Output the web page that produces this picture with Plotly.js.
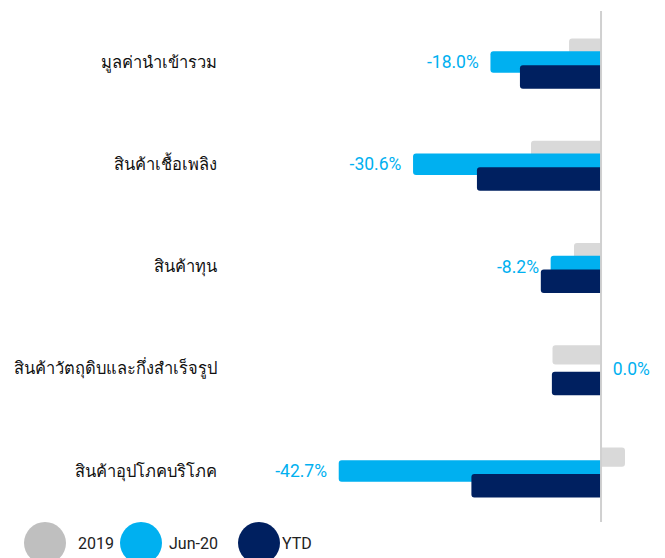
<!DOCTYPE html>
<html>
<head>
<meta charset="utf-8">
<script src="https://cdn.plot.ly/plotly-3.0.1.min.js"></script>
<style>html,body{margin:0;padding:0;background:#fff;}#chart{width:665px;height:558px;}</style>
</head>
<body>
<div id="chart"></div>
<script>
const categories = ["มูลค่านำเข้ารวม", "สินค้าเชื้อเพลิง", "สินค้าทุน", "สินค้าวัตถุดิบและกึ่งสำเร็จรูป", "สินค้าอุปโภคบริโภค"];
const seriesNames = ["2019", "Jun-20", "YTD"];
const values2019 = [-5.2, -11.4, -4.4, -7.9, 3.9];
const valuesJun20 = [-18.0, -30.6, -8.2, 0.0, -42.7];
const valuesYTD = [-13.2, -20.2, -9.8, -8.0, -21.1];

const barColors = ["#D9D9D9", "#00B0F0", "#002060"];
const legendColors = ["#BFBFBF", "#00B0F0", "#002060"];
const labelFont = "Roboto, 'Liberation Sans Narrow', 'DejaVu Sans', sans-serif";
const catFont = "'Noto Sans', 'DejaVu Sans', sans-serif";

const pad = "\u00a0\u00a0";
const junText = valuesJun20.map(v => v < 0 ? v.toFixed(1) + "%" + pad : pad + v.toFixed(1) + "%");

const allValues = [values2019, valuesJun20, valuesYTD];
const widths = [0.19, 0.21, 0.23];
const offsets = [-0.23, -0.105, 0.03];

const traces = allValues.map((vals, i) => {
  const t = {
    type: "bar",
    orientation: "h",
    name: seriesNames[i],
    y: categories,
    x: vals,
    width: widths[i],
    offset: offsets[i],
    marker: {color: barColors[i], cornerradius: 3},
    hoverinfo: "x+name",
    cliponaxis: false
  };
  if (i === 1) {
    t.text = junText;
    t.textposition = "outside";
    t.constraintext = "none";
    t.textfont = {color: "#00B0F0", size: 17.5, family: labelFont};
  } else {
    t.textposition = "none";
  }
  return t;
});

// plot area geometry for custom legend placement
const L = 222, R = 5, T = 11, B = 36, W = 665, H = 558;
const pw = W - L - R, ph = H - T - B;
const px2x = p => (p - L) / pw;
const py2y = p => (H - B - p) / ph;

const legendCircleX = [45, 141, 259];
const legendTextX = [76, 167, 280];
const legendY = 543;

const shapes = [{
  type: "line", xref: "x", yref: "paper", x0: 0, x1: 0, y0: 0, y1: 1,
  line: {color: "#D0D0D0", width: 2}, layer: "above"
}];
const annotations = [];
seriesNames.forEach((n, i) => {
  shapes.push({
    type: "circle", xref: "paper", yref: "paper",
    xsizemode: "pixel", ysizemode: "pixel",
    xanchor: px2x(legendCircleX[i]), yanchor: py2y(legendY),
    x0: -21, x1: 21, y0: -21, y1: 21,
    fillcolor: legendColors[i], line: {width: 0}
  });
  annotations.push({
    xref: "paper", yref: "paper", x: px2x(legendTextX[i]), y: py2y(legendY),
    xanchor: "left", yanchor: "middle", text: n, showarrow: false,
    font: {size: 16, color: "#222", family: labelFont}
  });
});

const layout = {
  width: W, height: H,
  margin: {l: L, r: R, t: T, b: B},
  paper_bgcolor: "#fff", plot_bgcolor: "#fff",
  barmode: "overlay",
  showlegend: false,
  xaxis: {range: [-61.7, 9.6], showgrid: false, zeroline: false, showticklabels: false, ticks: "", fixedrange: true},
  yaxis: {type: "category", autorange: "reversed", showgrid: false, zeroline: false, ticks: "",
          tickfont: {size: 16.5, color: "#111", family: catFont}, ticklabelstandoff: 4, fixedrange: true},
  shapes: shapes,
  annotations: annotations
};

Plotly.newPlot("chart", traces, layout, {displayModeBar: false, staticPlot: true});
</script>
</body>
</html>
